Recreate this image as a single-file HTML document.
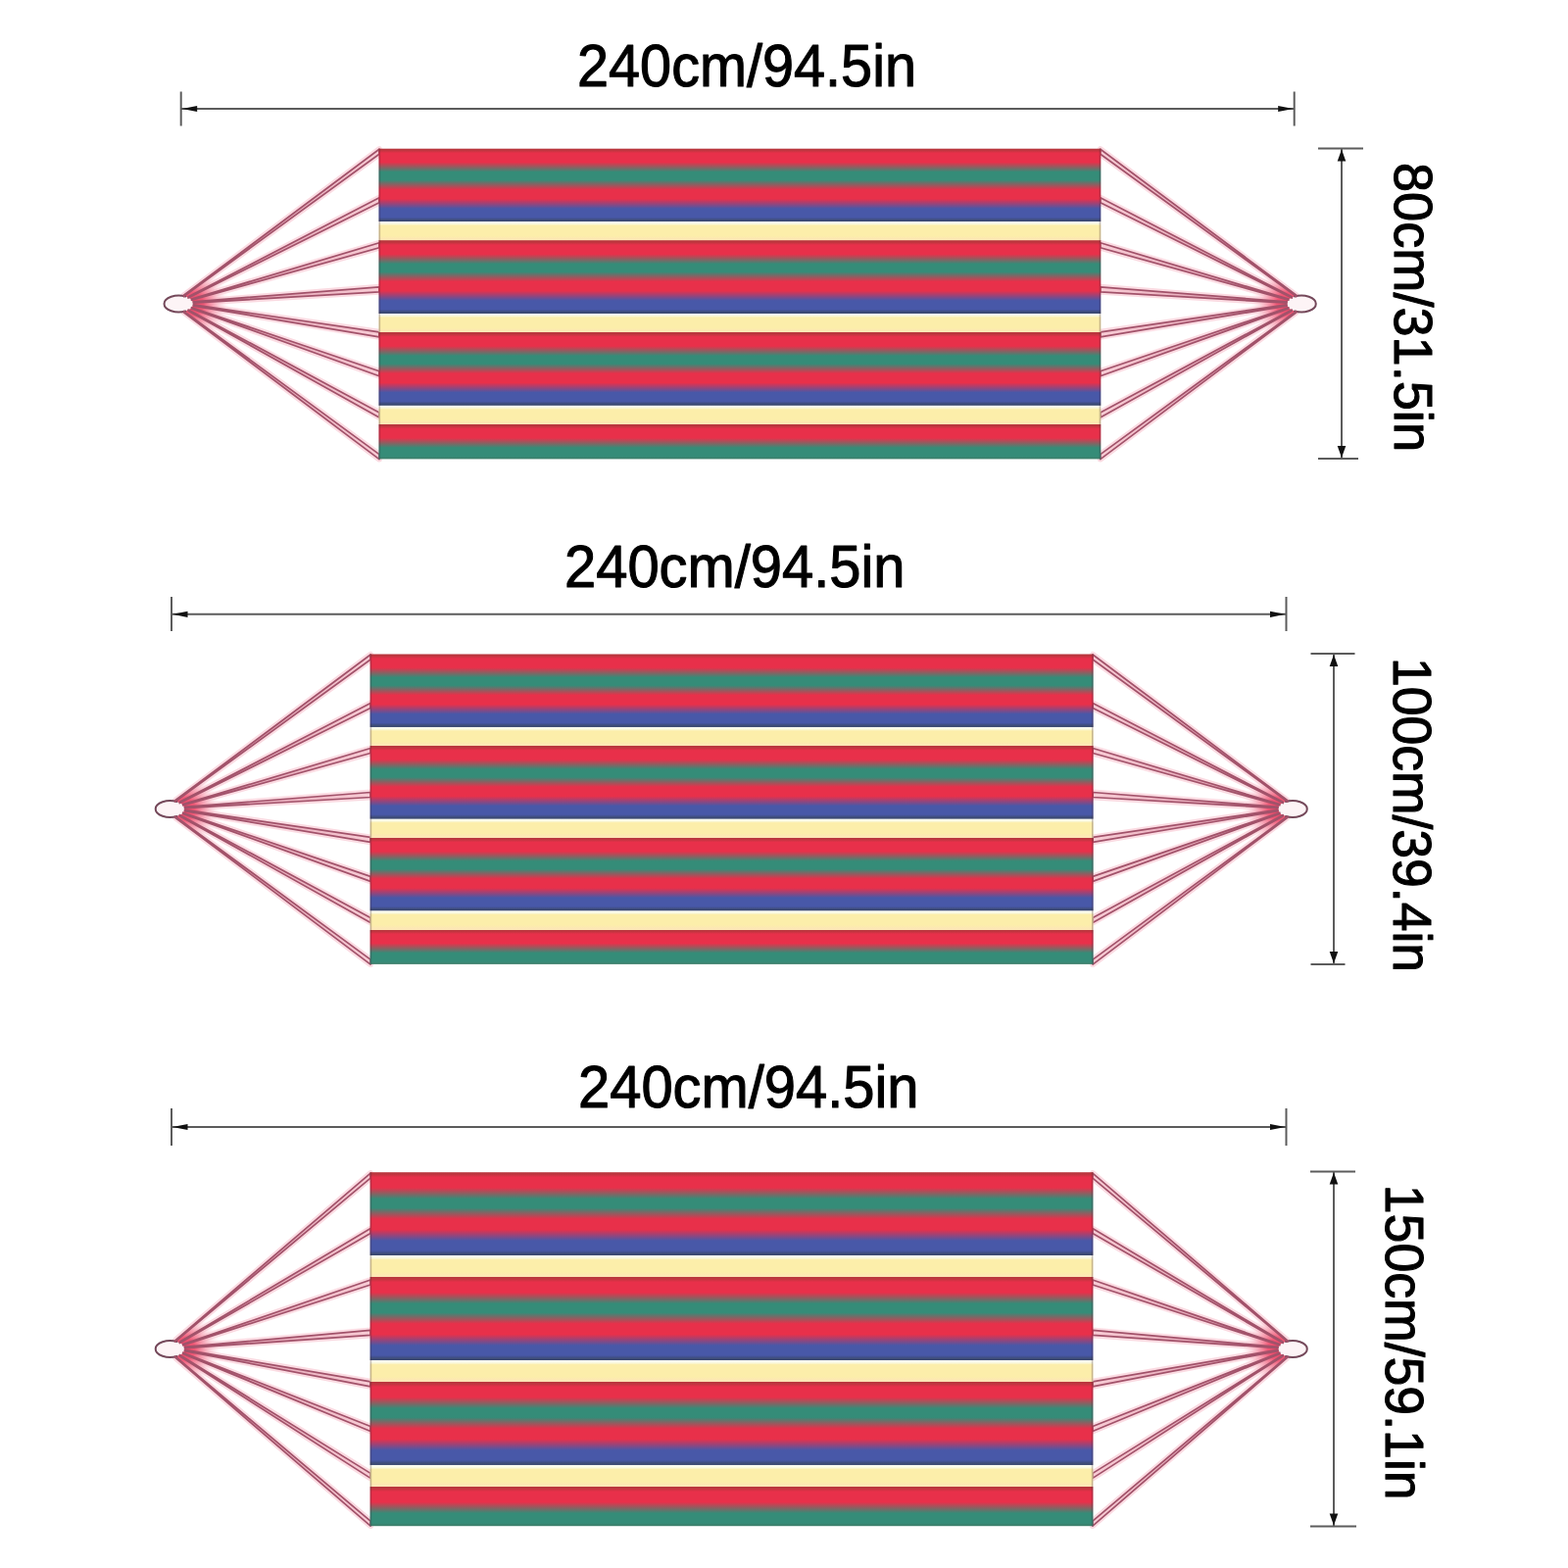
<!DOCTYPE html>
<html lang="en">
<head>
<meta charset="utf-8">
<title>Hammock size chart</title>
<style>
html,body{margin:0;padding:0;background:#fff;}
body{width:1600px;height:1600px;overflow:hidden;}
svg{display:block;}
.t{font-family:"Liberation Sans",sans-serif;font-size:60.5px;fill:#000;stroke:#000;stroke-width:1.1px;stroke-linejoin:round;}
.tv{font-size:56px;}
</style>
</head>
<body>
<svg width="1600" height="1600" viewBox="0 0 1600 1600" role="img" aria-label="Hammock size chart">
<defs>
<linearGradient id="g0" gradientUnits="userSpaceOnUse" x1="0" y1="151.70" x2="0" y2="468.40">
<stop offset="0.0000" stop-color="#ba363e"/>
<stop offset="0.0044" stop-color="#ba363e"/>
<stop offset="0.0142" stop-color="#e8304a"/>
<stop offset="0.0436" stop-color="#e8304a"/>
<stop offset="0.0752" stop-color="#358c78"/>
<stop offset="0.1005" stop-color="#358c78"/>
<stop offset="0.1321" stop-color="#e8304a"/>
<stop offset="0.1618" stop-color="#e8304a"/>
<stop offset="0.1934" stop-color="#4858a8"/>
<stop offset="0.2212" stop-color="#4858a8"/>
<stop offset="0.2306" stop-color="#3c4a74"/>
<stop offset="0.2338" stop-color="#3c4a74"/>
<stop offset="0.2363" stop-color="#fdfdf4"/>
<stop offset="0.2420" stop-color="#fafae1"/>
<stop offset="0.2480" stop-color="#fceeaa"/>
<stop offset="0.2812" stop-color="#fceeaa"/>
<stop offset="0.2932" stop-color="#fde6b6"/>
<stop offset="0.2961" stop-color="#fde6b6"/>
<stop offset="0.2962" stop-color="#ba363e"/>
<stop offset="0.3006" stop-color="#ba363e"/>
<stop offset="0.3104" stop-color="#e8304a"/>
<stop offset="0.3398" stop-color="#e8304a"/>
<stop offset="0.3714" stop-color="#358c78"/>
<stop offset="0.3967" stop-color="#358c78"/>
<stop offset="0.4283" stop-color="#e8304a"/>
<stop offset="0.4580" stop-color="#e8304a"/>
<stop offset="0.4896" stop-color="#4858a8"/>
<stop offset="0.5174" stop-color="#4858a8"/>
<stop offset="0.5269" stop-color="#3c4a74"/>
<stop offset="0.5300" stop-color="#3c4a74"/>
<stop offset="0.5325" stop-color="#fdfdf4"/>
<stop offset="0.5382" stop-color="#fafae1"/>
<stop offset="0.5442" stop-color="#fceeaa"/>
<stop offset="0.5774" stop-color="#fceeaa"/>
<stop offset="0.5894" stop-color="#fde6b6"/>
<stop offset="0.5923" stop-color="#fde6b6"/>
<stop offset="0.5924" stop-color="#ba363e"/>
<stop offset="0.5968" stop-color="#ba363e"/>
<stop offset="0.6066" stop-color="#e8304a"/>
<stop offset="0.6360" stop-color="#e8304a"/>
<stop offset="0.6676" stop-color="#358c78"/>
<stop offset="0.6929" stop-color="#358c78"/>
<stop offset="0.7245" stop-color="#e8304a"/>
<stop offset="0.7542" stop-color="#e8304a"/>
<stop offset="0.7858" stop-color="#4858a8"/>
<stop offset="0.8136" stop-color="#4858a8"/>
<stop offset="0.8231" stop-color="#3c4a74"/>
<stop offset="0.8262" stop-color="#3c4a74"/>
<stop offset="0.8288" stop-color="#fdfdf4"/>
<stop offset="0.8344" stop-color="#fafae1"/>
<stop offset="0.8404" stop-color="#fceeaa"/>
<stop offset="0.8736" stop-color="#fceeaa"/>
<stop offset="0.8856" stop-color="#fde6b6"/>
<stop offset="0.8885" stop-color="#fde6b6"/>
<stop offset="0.8886" stop-color="#ba363e"/>
<stop offset="0.8930" stop-color="#ba363e"/>
<stop offset="0.9028" stop-color="#e8304a"/>
<stop offset="0.9322" stop-color="#e8304a"/>
<stop offset="0.9638" stop-color="#358c78"/>
<stop offset="0.9913" stop-color="#358c78"/>
<stop offset="0.9979" stop-color="#3e806c"/>
<stop offset="1.0000" stop-color="#3e806c"/>
</linearGradient>
<radialGradient id="w0L" gradientUnits="userSpaceOnUse" cx="196.3" cy="310.0" r="38"><stop offset="0" stop-color="#ec3c5e"/><stop offset="0.3" stop-color="#f05876"/><stop offset="0.55" stop-color="#f693a8" stop-opacity="0.8"/><stop offset="0.85" stop-color="#fcd4dc" stop-opacity="0.4"/><stop offset="1" stop-color="#fde6ea" stop-opacity="0"/></radialGradient>
<linearGradient id="r0L" gradientUnits="userSpaceOnUse" x1="196.3" y1="0" x2="386.5" y2="0"><stop offset="0" stop-color="#8a4660"/><stop offset="0.14" stop-color="#9a546c"/><stop offset="0.36" stop-color="#e4a4b5"/><stop offset="1" stop-color="#f8ccd5"/></linearGradient>
<radialGradient id="w0R" gradientUnits="userSpaceOnUse" cx="1314.0" cy="310.0" r="38"><stop offset="0" stop-color="#ec3c5e"/><stop offset="0.3" stop-color="#f05876"/><stop offset="0.55" stop-color="#f693a8" stop-opacity="0.8"/><stop offset="0.85" stop-color="#fcd4dc" stop-opacity="0.4"/><stop offset="1" stop-color="#fde6ea" stop-opacity="0"/></radialGradient>
<linearGradient id="r0R" gradientUnits="userSpaceOnUse" x1="1314.0" y1="0" x2="1123.3" y2="0"><stop offset="0" stop-color="#8a4660"/><stop offset="0.14" stop-color="#9a546c"/><stop offset="0.36" stop-color="#e4a4b5"/><stop offset="1" stop-color="#f8ccd5"/></linearGradient>
<linearGradient id="g1" gradientUnits="userSpaceOnUse" x1="0" y1="667.50" x2="0" y2="983.90">
<stop offset="0.0000" stop-color="#ba363e"/>
<stop offset="0.0044" stop-color="#ba363e"/>
<stop offset="0.0142" stop-color="#e8304a"/>
<stop offset="0.0436" stop-color="#e8304a"/>
<stop offset="0.0752" stop-color="#358c78"/>
<stop offset="0.1005" stop-color="#358c78"/>
<stop offset="0.1321" stop-color="#e8304a"/>
<stop offset="0.1618" stop-color="#e8304a"/>
<stop offset="0.1934" stop-color="#4858a8"/>
<stop offset="0.2212" stop-color="#4858a8"/>
<stop offset="0.2306" stop-color="#3c4a74"/>
<stop offset="0.2338" stop-color="#3c4a74"/>
<stop offset="0.2363" stop-color="#fdfdf4"/>
<stop offset="0.2420" stop-color="#fafae1"/>
<stop offset="0.2480" stop-color="#fceeaa"/>
<stop offset="0.2812" stop-color="#fceeaa"/>
<stop offset="0.2932" stop-color="#fde6b6"/>
<stop offset="0.2961" stop-color="#fde6b6"/>
<stop offset="0.2962" stop-color="#ba363e"/>
<stop offset="0.3006" stop-color="#ba363e"/>
<stop offset="0.3104" stop-color="#e8304a"/>
<stop offset="0.3398" stop-color="#e8304a"/>
<stop offset="0.3714" stop-color="#358c78"/>
<stop offset="0.3967" stop-color="#358c78"/>
<stop offset="0.4283" stop-color="#e8304a"/>
<stop offset="0.4580" stop-color="#e8304a"/>
<stop offset="0.4896" stop-color="#4858a8"/>
<stop offset="0.5174" stop-color="#4858a8"/>
<stop offset="0.5269" stop-color="#3c4a74"/>
<stop offset="0.5300" stop-color="#3c4a74"/>
<stop offset="0.5325" stop-color="#fdfdf4"/>
<stop offset="0.5382" stop-color="#fafae1"/>
<stop offset="0.5442" stop-color="#fceeaa"/>
<stop offset="0.5774" stop-color="#fceeaa"/>
<stop offset="0.5894" stop-color="#fde6b6"/>
<stop offset="0.5923" stop-color="#fde6b6"/>
<stop offset="0.5924" stop-color="#ba363e"/>
<stop offset="0.5968" stop-color="#ba363e"/>
<stop offset="0.6066" stop-color="#e8304a"/>
<stop offset="0.6360" stop-color="#e8304a"/>
<stop offset="0.6676" stop-color="#358c78"/>
<stop offset="0.6929" stop-color="#358c78"/>
<stop offset="0.7245" stop-color="#e8304a"/>
<stop offset="0.7542" stop-color="#e8304a"/>
<stop offset="0.7858" stop-color="#4858a8"/>
<stop offset="0.8136" stop-color="#4858a8"/>
<stop offset="0.8231" stop-color="#3c4a74"/>
<stop offset="0.8262" stop-color="#3c4a74"/>
<stop offset="0.8288" stop-color="#fdfdf4"/>
<stop offset="0.8344" stop-color="#fafae1"/>
<stop offset="0.8404" stop-color="#fceeaa"/>
<stop offset="0.8736" stop-color="#fceeaa"/>
<stop offset="0.8856" stop-color="#fde6b6"/>
<stop offset="0.8885" stop-color="#fde6b6"/>
<stop offset="0.8886" stop-color="#ba363e"/>
<stop offset="0.8930" stop-color="#ba363e"/>
<stop offset="0.9028" stop-color="#e8304a"/>
<stop offset="0.9322" stop-color="#e8304a"/>
<stop offset="0.9638" stop-color="#358c78"/>
<stop offset="0.9913" stop-color="#358c78"/>
<stop offset="0.9979" stop-color="#3e806c"/>
<stop offset="1.0000" stop-color="#3e806c"/>
</linearGradient>
<radialGradient id="w1L" gradientUnits="userSpaceOnUse" cx="187.5" cy="825.5" r="38"><stop offset="0" stop-color="#ec3c5e"/><stop offset="0.3" stop-color="#f05876"/><stop offset="0.55" stop-color="#f693a8" stop-opacity="0.8"/><stop offset="0.85" stop-color="#fcd4dc" stop-opacity="0.4"/><stop offset="1" stop-color="#fde6ea" stop-opacity="0"/></radialGradient>
<linearGradient id="r1L" gradientUnits="userSpaceOnUse" x1="187.5" y1="0" x2="377.6" y2="0"><stop offset="0" stop-color="#8a4660"/><stop offset="0.14" stop-color="#9a546c"/><stop offset="0.36" stop-color="#e4a4b5"/><stop offset="1" stop-color="#f8ccd5"/></linearGradient>
<radialGradient id="w1R" gradientUnits="userSpaceOnUse" cx="1305.0" cy="825.5" r="38"><stop offset="0" stop-color="#ec3c5e"/><stop offset="0.3" stop-color="#f05876"/><stop offset="0.55" stop-color="#f693a8" stop-opacity="0.8"/><stop offset="0.85" stop-color="#fcd4dc" stop-opacity="0.4"/><stop offset="1" stop-color="#fde6ea" stop-opacity="0"/></radialGradient>
<linearGradient id="r1R" gradientUnits="userSpaceOnUse" x1="1305.0" y1="0" x2="1115.6" y2="0"><stop offset="0" stop-color="#8a4660"/><stop offset="0.14" stop-color="#9a546c"/><stop offset="0.36" stop-color="#e4a4b5"/><stop offset="1" stop-color="#f8ccd5"/></linearGradient>
<linearGradient id="g2" gradientUnits="userSpaceOnUse" x1="0" y1="1196.20" x2="0" y2="1557.20">
<stop offset="0.0000" stop-color="#ba363e"/>
<stop offset="0.0044" stop-color="#ba363e"/>
<stop offset="0.0142" stop-color="#e8304a"/>
<stop offset="0.0436" stop-color="#e8304a"/>
<stop offset="0.0752" stop-color="#358c78"/>
<stop offset="0.1005" stop-color="#358c78"/>
<stop offset="0.1321" stop-color="#e8304a"/>
<stop offset="0.1618" stop-color="#e8304a"/>
<stop offset="0.1934" stop-color="#4858a8"/>
<stop offset="0.2212" stop-color="#4858a8"/>
<stop offset="0.2306" stop-color="#3c4a74"/>
<stop offset="0.2338" stop-color="#3c4a74"/>
<stop offset="0.2363" stop-color="#fdfdf4"/>
<stop offset="0.2420" stop-color="#fafae1"/>
<stop offset="0.2480" stop-color="#fceeaa"/>
<stop offset="0.2812" stop-color="#fceeaa"/>
<stop offset="0.2932" stop-color="#fde6b6"/>
<stop offset="0.2961" stop-color="#fde6b6"/>
<stop offset="0.2962" stop-color="#ba363e"/>
<stop offset="0.3006" stop-color="#ba363e"/>
<stop offset="0.3104" stop-color="#e8304a"/>
<stop offset="0.3398" stop-color="#e8304a"/>
<stop offset="0.3714" stop-color="#358c78"/>
<stop offset="0.3967" stop-color="#358c78"/>
<stop offset="0.4283" stop-color="#e8304a"/>
<stop offset="0.4580" stop-color="#e8304a"/>
<stop offset="0.4896" stop-color="#4858a8"/>
<stop offset="0.5174" stop-color="#4858a8"/>
<stop offset="0.5269" stop-color="#3c4a74"/>
<stop offset="0.5300" stop-color="#3c4a74"/>
<stop offset="0.5325" stop-color="#fdfdf4"/>
<stop offset="0.5382" stop-color="#fafae1"/>
<stop offset="0.5442" stop-color="#fceeaa"/>
<stop offset="0.5774" stop-color="#fceeaa"/>
<stop offset="0.5894" stop-color="#fde6b6"/>
<stop offset="0.5923" stop-color="#fde6b6"/>
<stop offset="0.5924" stop-color="#ba363e"/>
<stop offset="0.5968" stop-color="#ba363e"/>
<stop offset="0.6066" stop-color="#e8304a"/>
<stop offset="0.6360" stop-color="#e8304a"/>
<stop offset="0.6676" stop-color="#358c78"/>
<stop offset="0.6929" stop-color="#358c78"/>
<stop offset="0.7245" stop-color="#e8304a"/>
<stop offset="0.7542" stop-color="#e8304a"/>
<stop offset="0.7858" stop-color="#4858a8"/>
<stop offset="0.8136" stop-color="#4858a8"/>
<stop offset="0.8231" stop-color="#3c4a74"/>
<stop offset="0.8262" stop-color="#3c4a74"/>
<stop offset="0.8288" stop-color="#fdfdf4"/>
<stop offset="0.8344" stop-color="#fafae1"/>
<stop offset="0.8404" stop-color="#fceeaa"/>
<stop offset="0.8736" stop-color="#fceeaa"/>
<stop offset="0.8856" stop-color="#fde6b6"/>
<stop offset="0.8885" stop-color="#fde6b6"/>
<stop offset="0.8886" stop-color="#ba363e"/>
<stop offset="0.8930" stop-color="#ba363e"/>
<stop offset="0.9028" stop-color="#e8304a"/>
<stop offset="0.9322" stop-color="#e8304a"/>
<stop offset="0.9638" stop-color="#358c78"/>
<stop offset="0.9913" stop-color="#358c78"/>
<stop offset="0.9979" stop-color="#3e806c"/>
<stop offset="1.0000" stop-color="#3e806c"/>
</linearGradient>
<radialGradient id="w2L" gradientUnits="userSpaceOnUse" cx="187.5" cy="1376.5" r="38"><stop offset="0" stop-color="#ec3c5e"/><stop offset="0.3" stop-color="#f05876"/><stop offset="0.55" stop-color="#f693a8" stop-opacity="0.8"/><stop offset="0.85" stop-color="#fcd4dc" stop-opacity="0.4"/><stop offset="1" stop-color="#fde6ea" stop-opacity="0"/></radialGradient>
<linearGradient id="r2L" gradientUnits="userSpaceOnUse" x1="187.5" y1="0" x2="377.6" y2="0"><stop offset="0" stop-color="#8a4660"/><stop offset="0.14" stop-color="#9a546c"/><stop offset="0.36" stop-color="#e4a4b5"/><stop offset="1" stop-color="#f8ccd5"/></linearGradient>
<radialGradient id="w2R" gradientUnits="userSpaceOnUse" cx="1305.0" cy="1376.5" r="38"><stop offset="0" stop-color="#ec3c5e"/><stop offset="0.3" stop-color="#f05876"/><stop offset="0.55" stop-color="#f693a8" stop-opacity="0.8"/><stop offset="0.85" stop-color="#fcd4dc" stop-opacity="0.4"/><stop offset="1" stop-color="#fde6ea" stop-opacity="0"/></radialGradient>
<linearGradient id="r2R" gradientUnits="userSpaceOnUse" x1="1305.0" y1="0" x2="1115.4" y2="0"><stop offset="0" stop-color="#8a4660"/><stop offset="0.14" stop-color="#9a546c"/><stop offset="0.36" stop-color="#e4a4b5"/><stop offset="1" stop-color="#f8ccd5"/></linearGradient>
</defs>
<rect x="0" y="0" width="1600" height="1600" fill="#ffffff"/>
<g id="size-1">
<g class="hammock">
<polygon points="187.5,301.3 387.0,152.2 387.0,157.2 187.5,302.5" fill="#fbdbe2" stroke="#fbdbe2" stroke-width="6" stroke-linejoin="round"/>
<polygon points="192.1,302.8 387.0,201.7 387.0,206.7 192.1,304.0" fill="#fbdbe2" stroke="#fbdbe2" stroke-width="6" stroke-linejoin="round"/>
<polygon points="195.5,305.1 387.0,247.8 387.0,252.8 195.5,306.3" fill="#fbdbe2" stroke="#fbdbe2" stroke-width="6" stroke-linejoin="round"/>
<polygon points="197.3,307.9 387.0,292.8 387.0,297.8 197.3,309.1" fill="#fbdbe2" stroke="#fbdbe2" stroke-width="6" stroke-linejoin="round"/>
<polygon points="197.3,310.9 387.0,338.8 387.0,343.8 197.3,312.1" fill="#fbdbe2" stroke="#fbdbe2" stroke-width="6" stroke-linejoin="round"/>
<polygon points="195.5,313.7 387.0,378.8 387.0,383.8 195.5,314.9" fill="#fbdbe2" stroke="#fbdbe2" stroke-width="6" stroke-linejoin="round"/>
<polygon points="192.1,316.0 387.0,420.9 387.0,425.9 192.1,317.2" fill="#fbdbe2" stroke="#fbdbe2" stroke-width="6" stroke-linejoin="round"/>
<polygon points="187.5,317.5 387.0,463.6 387.0,468.6 187.5,318.7" fill="#fbdbe2" stroke="#fbdbe2" stroke-width="6" stroke-linejoin="round"/>
<path d="M187.3 301.4 L236.3 265.1 L236.3 354.9 L187.3 318.6 Z" fill="url(#w0L)"/>
<ellipse cx="182.3" cy="310.0" rx="14.8" ry="8.4" fill="#fdf4f6"/>
<path d="M189.25 302.58 A14.8 8.4 0 1 0 189.25 317.42" fill="none" stroke="#74485a" stroke-width="2" stroke-linecap="round"/>
<polygon points="187.5,301.3 387.0,152.2 387.0,157.2 187.5,302.5" fill="url(#r0L)" stroke="#a2526a" stroke-width="1.7" stroke-linejoin="round"/>
<polygon points="192.1,302.8 387.0,201.7 387.0,206.7 192.1,304.0" fill="url(#r0L)" stroke="#a2526a" stroke-width="1.7" stroke-linejoin="round"/>
<polygon points="195.5,305.1 387.0,247.8 387.0,252.8 195.5,306.3" fill="url(#r0L)" stroke="#a2526a" stroke-width="1.7" stroke-linejoin="round"/>
<polygon points="197.3,307.9 387.0,292.8 387.0,297.8 197.3,309.1" fill="url(#r0L)" stroke="#a2526a" stroke-width="1.7" stroke-linejoin="round"/>
<polygon points="197.3,310.9 387.0,338.8 387.0,343.8 197.3,312.1" fill="url(#r0L)" stroke="#a2526a" stroke-width="1.7" stroke-linejoin="round"/>
<polygon points="195.5,313.7 387.0,378.8 387.0,383.8 195.5,314.9" fill="url(#r0L)" stroke="#a2526a" stroke-width="1.7" stroke-linejoin="round"/>
<polygon points="192.1,316.0 387.0,420.9 387.0,425.9 192.1,317.2" fill="url(#r0L)" stroke="#a2526a" stroke-width="1.7" stroke-linejoin="round"/>
<polygon points="187.5,317.5 387.0,463.6 387.0,468.6 187.5,318.7" fill="url(#r0L)" stroke="#a2526a" stroke-width="1.7" stroke-linejoin="round"/>
<polygon points="1322.8,301.3 1122.8,152.2 1122.8,157.2 1322.8,302.5" fill="#fbdbe2" stroke="#fbdbe2" stroke-width="6" stroke-linejoin="round"/>
<polygon points="1318.2,302.8 1122.8,201.7 1122.8,206.7 1318.2,304.0" fill="#fbdbe2" stroke="#fbdbe2" stroke-width="6" stroke-linejoin="round"/>
<polygon points="1314.8,305.1 1122.8,247.8 1122.8,252.8 1314.8,306.3" fill="#fbdbe2" stroke="#fbdbe2" stroke-width="6" stroke-linejoin="round"/>
<polygon points="1313.0,307.9 1122.8,292.8 1122.8,297.8 1313.0,309.1" fill="#fbdbe2" stroke="#fbdbe2" stroke-width="6" stroke-linejoin="round"/>
<polygon points="1313.0,310.9 1122.8,338.8 1122.8,343.8 1313.0,312.1" fill="#fbdbe2" stroke="#fbdbe2" stroke-width="6" stroke-linejoin="round"/>
<polygon points="1314.8,313.7 1122.8,378.8 1122.8,383.8 1314.8,314.9" fill="#fbdbe2" stroke="#fbdbe2" stroke-width="6" stroke-linejoin="round"/>
<polygon points="1318.2,316.0 1122.8,420.9 1122.8,425.9 1318.2,317.2" fill="#fbdbe2" stroke="#fbdbe2" stroke-width="6" stroke-linejoin="round"/>
<polygon points="1322.8,317.5 1122.8,463.6 1122.8,468.6 1322.8,318.7" fill="#fbdbe2" stroke="#fbdbe2" stroke-width="6" stroke-linejoin="round"/>
<path d="M1323.0 301.4 L1274.0 265.1 L1274.0 354.9 L1323.0 318.6 Z" fill="url(#w0R)"/>
<ellipse cx="1328.0" cy="310.0" rx="14.8" ry="8.4" fill="#fdf4f6"/>
<path d="M1321.05 302.58 A14.8 8.4 0 1 1 1321.05 317.42" fill="none" stroke="#74485a" stroke-width="2" stroke-linecap="round"/>
<polygon points="1322.8,301.3 1122.8,152.2 1122.8,157.2 1322.8,302.5" fill="url(#r0R)" stroke="#a2526a" stroke-width="1.7" stroke-linejoin="round"/>
<polygon points="1318.2,302.8 1122.8,201.7 1122.8,206.7 1318.2,304.0" fill="url(#r0R)" stroke="#a2526a" stroke-width="1.7" stroke-linejoin="round"/>
<polygon points="1314.8,305.1 1122.8,247.8 1122.8,252.8 1314.8,306.3" fill="url(#r0R)" stroke="#a2526a" stroke-width="1.7" stroke-linejoin="round"/>
<polygon points="1313.0,307.9 1122.8,292.8 1122.8,297.8 1313.0,309.1" fill="url(#r0R)" stroke="#a2526a" stroke-width="1.7" stroke-linejoin="round"/>
<polygon points="1313.0,310.9 1122.8,338.8 1122.8,343.8 1313.0,312.1" fill="url(#r0R)" stroke="#a2526a" stroke-width="1.7" stroke-linejoin="round"/>
<polygon points="1314.8,313.7 1122.8,378.8 1122.8,383.8 1314.8,314.9" fill="url(#r0R)" stroke="#a2526a" stroke-width="1.7" stroke-linejoin="round"/>
<polygon points="1318.2,316.0 1122.8,420.9 1122.8,425.9 1318.2,317.2" fill="url(#r0R)" stroke="#a2526a" stroke-width="1.7" stroke-linejoin="round"/>
<polygon points="1322.8,317.5 1122.8,463.6 1122.8,468.6 1322.8,318.7" fill="url(#r0R)" stroke="#a2526a" stroke-width="1.7" stroke-linejoin="round"/>
<rect x="386.5" y="151.7" width="736.8" height="316.7" fill="url(#g0)"/>
<rect x="386.5" y="151.7" width="1.6" height="316.7" fill="#402838" opacity="0.28"/>
<rect x="1121.7" y="151.7" width="1.6" height="316.7" fill="#402838" opacity="0.28"/>
</g>
<g class="dim dim-length">
<line x1="184.7" y1="111.0" x2="1320.7" y2="111.0" stroke="#5c5c5c" stroke-width="2"/>
<line x1="184.7" y1="93.5" x2="184.7" y2="128.5" stroke="#5c5c5c" stroke-width="2"/>
<line x1="1320.7" y1="93.5" x2="1320.7" y2="128.5" stroke="#5c5c5c" stroke-width="2"/>
<polygon points="185.7,111.0 201.2,107.9 201.2,114.1" fill="#111"/>
<polygon points="1319.7,111.0 1304.2,107.9 1304.2,114.1" fill="#111"/>
<text class="t h0" x="589.0" y="88.0" textLength="346.0" lengthAdjust="spacingAndGlyphs">240cm/94.5in</text>
</g>
<g class="dim dim-width">
<line x1="1369.0" y1="151.6" x2="1369.0" y2="468.0" stroke="#5c5c5c" stroke-width="2"/>
<line x1="1345.0" y1="151.6" x2="1391.0" y2="151.6" stroke="#5c5c5c" stroke-width="2"/>
<line x1="1345.0" y1="468.0" x2="1386.0" y2="468.0" stroke="#5c5c5c" stroke-width="2"/>
<polygon points="1369.0,152.6 1364.7,164.6 1373.3,164.6" fill="#111"/>
<polygon points="1369.0,467.0 1364.7,455.0 1373.3,455.0" fill="#111"/>
<text class="t tv v0" transform="translate(1422.5 166.0) rotate(90)" x="0" y="0" textLength="295.0" lengthAdjust="spacingAndGlyphs">80cm/31.5in</text>
</g>
</g>
<g id="size-2">
<g class="hammock">
<polygon points="178.7,816.8 378.1,668.0 378.1,673.0 178.7,818.0" fill="#fbdbe2" stroke="#fbdbe2" stroke-width="6" stroke-linejoin="round"/>
<polygon points="183.3,818.3 378.1,717.5 378.1,722.5 183.3,819.5" fill="#fbdbe2" stroke="#fbdbe2" stroke-width="6" stroke-linejoin="round"/>
<polygon points="186.7,820.6 378.1,763.5 378.1,768.5 186.7,821.8" fill="#fbdbe2" stroke="#fbdbe2" stroke-width="6" stroke-linejoin="round"/>
<polygon points="188.5,823.4 378.1,808.5 378.1,813.5 188.5,824.6" fill="#fbdbe2" stroke="#fbdbe2" stroke-width="6" stroke-linejoin="round"/>
<polygon points="188.5,826.4 378.1,854.4 378.1,859.4 188.5,827.6" fill="#fbdbe2" stroke="#fbdbe2" stroke-width="6" stroke-linejoin="round"/>
<polygon points="186.7,829.2 378.1,894.4 378.1,899.4 186.7,830.4" fill="#fbdbe2" stroke="#fbdbe2" stroke-width="6" stroke-linejoin="round"/>
<polygon points="183.3,831.5 378.1,936.4 378.1,941.4 183.3,832.7" fill="#fbdbe2" stroke="#fbdbe2" stroke-width="6" stroke-linejoin="round"/>
<polygon points="178.7,833.0 378.1,979.1 378.1,984.1 178.7,834.2" fill="#fbdbe2" stroke="#fbdbe2" stroke-width="6" stroke-linejoin="round"/>
<path d="M178.5 816.9 L227.5 780.6 L227.5 870.4 L178.5 834.1 Z" fill="url(#w1L)"/>
<ellipse cx="173.5" cy="825.5" rx="14.8" ry="8.4" fill="#fdf4f6"/>
<path d="M180.45 818.08 A14.8 8.4 0 1 0 180.45 832.92" fill="none" stroke="#74485a" stroke-width="2" stroke-linecap="round"/>
<polygon points="178.7,816.8 378.1,668.0 378.1,673.0 178.7,818.0" fill="url(#r1L)" stroke="#a2526a" stroke-width="1.7" stroke-linejoin="round"/>
<polygon points="183.3,818.3 378.1,717.5 378.1,722.5 183.3,819.5" fill="url(#r1L)" stroke="#a2526a" stroke-width="1.7" stroke-linejoin="round"/>
<polygon points="186.7,820.6 378.1,763.5 378.1,768.5 186.7,821.8" fill="url(#r1L)" stroke="#a2526a" stroke-width="1.7" stroke-linejoin="round"/>
<polygon points="188.5,823.4 378.1,808.5 378.1,813.5 188.5,824.6" fill="url(#r1L)" stroke="#a2526a" stroke-width="1.7" stroke-linejoin="round"/>
<polygon points="188.5,826.4 378.1,854.4 378.1,859.4 188.5,827.6" fill="url(#r1L)" stroke="#a2526a" stroke-width="1.7" stroke-linejoin="round"/>
<polygon points="186.7,829.2 378.1,894.4 378.1,899.4 186.7,830.4" fill="url(#r1L)" stroke="#a2526a" stroke-width="1.7" stroke-linejoin="round"/>
<polygon points="183.3,831.5 378.1,936.4 378.1,941.4 183.3,832.7" fill="url(#r1L)" stroke="#a2526a" stroke-width="1.7" stroke-linejoin="round"/>
<polygon points="178.7,833.0 378.1,979.1 378.1,984.1 178.7,834.2" fill="url(#r1L)" stroke="#a2526a" stroke-width="1.7" stroke-linejoin="round"/>
<polygon points="1313.8,816.8 1115.1,668.0 1115.1,673.0 1313.8,818.0" fill="#fbdbe2" stroke="#fbdbe2" stroke-width="6" stroke-linejoin="round"/>
<polygon points="1309.2,818.3 1115.1,717.5 1115.1,722.5 1309.2,819.5" fill="#fbdbe2" stroke="#fbdbe2" stroke-width="6" stroke-linejoin="round"/>
<polygon points="1305.8,820.6 1115.1,763.5 1115.1,768.5 1305.8,821.8" fill="#fbdbe2" stroke="#fbdbe2" stroke-width="6" stroke-linejoin="round"/>
<polygon points="1304.0,823.4 1115.1,808.5 1115.1,813.5 1304.0,824.6" fill="#fbdbe2" stroke="#fbdbe2" stroke-width="6" stroke-linejoin="round"/>
<polygon points="1304.0,826.4 1115.1,854.4 1115.1,859.4 1304.0,827.6" fill="#fbdbe2" stroke="#fbdbe2" stroke-width="6" stroke-linejoin="round"/>
<polygon points="1305.8,829.2 1115.1,894.4 1115.1,899.4 1305.8,830.4" fill="#fbdbe2" stroke="#fbdbe2" stroke-width="6" stroke-linejoin="round"/>
<polygon points="1309.2,831.5 1115.1,936.4 1115.1,941.4 1309.2,832.7" fill="#fbdbe2" stroke="#fbdbe2" stroke-width="6" stroke-linejoin="round"/>
<polygon points="1313.8,833.0 1115.1,979.1 1115.1,984.1 1313.8,834.2" fill="#fbdbe2" stroke="#fbdbe2" stroke-width="6" stroke-linejoin="round"/>
<path d="M1314.0 816.9 L1265.0 780.6 L1265.0 870.4 L1314.0 834.1 Z" fill="url(#w1R)"/>
<ellipse cx="1319.0" cy="825.5" rx="14.8" ry="8.4" fill="#fdf4f6"/>
<path d="M1312.05 818.08 A14.8 8.4 0 1 1 1312.05 832.92" fill="none" stroke="#74485a" stroke-width="2" stroke-linecap="round"/>
<polygon points="1313.8,816.8 1115.1,668.0 1115.1,673.0 1313.8,818.0" fill="url(#r1R)" stroke="#a2526a" stroke-width="1.7" stroke-linejoin="round"/>
<polygon points="1309.2,818.3 1115.1,717.5 1115.1,722.5 1309.2,819.5" fill="url(#r1R)" stroke="#a2526a" stroke-width="1.7" stroke-linejoin="round"/>
<polygon points="1305.8,820.6 1115.1,763.5 1115.1,768.5 1305.8,821.8" fill="url(#r1R)" stroke="#a2526a" stroke-width="1.7" stroke-linejoin="round"/>
<polygon points="1304.0,823.4 1115.1,808.5 1115.1,813.5 1304.0,824.6" fill="url(#r1R)" stroke="#a2526a" stroke-width="1.7" stroke-linejoin="round"/>
<polygon points="1304.0,826.4 1115.1,854.4 1115.1,859.4 1304.0,827.6" fill="url(#r1R)" stroke="#a2526a" stroke-width="1.7" stroke-linejoin="round"/>
<polygon points="1305.8,829.2 1115.1,894.4 1115.1,899.4 1305.8,830.4" fill="url(#r1R)" stroke="#a2526a" stroke-width="1.7" stroke-linejoin="round"/>
<polygon points="1309.2,831.5 1115.1,936.4 1115.1,941.4 1309.2,832.7" fill="url(#r1R)" stroke="#a2526a" stroke-width="1.7" stroke-linejoin="round"/>
<polygon points="1313.8,833.0 1115.1,979.1 1115.1,984.1 1313.8,834.2" fill="url(#r1R)" stroke="#a2526a" stroke-width="1.7" stroke-linejoin="round"/>
<rect x="377.6" y="667.5" width="738.0" height="316.4" fill="url(#g1)"/>
<rect x="377.6" y="667.5" width="1.6" height="316.4" fill="#402838" opacity="0.28"/>
<rect x="1114.0" y="667.5" width="1.6" height="316.4" fill="#402838" opacity="0.28"/>
</g>
<g class="dim dim-length">
<line x1="175.0" y1="626.8" x2="1312.5" y2="626.8" stroke="#5c5c5c" stroke-width="2"/>
<line x1="175.0" y1="609.0" x2="175.0" y2="644.0" stroke="#5c5c5c" stroke-width="2"/>
<line x1="1312.5" y1="609.0" x2="1312.5" y2="644.0" stroke="#5c5c5c" stroke-width="2"/>
<polygon points="176.0,626.8 191.5,623.7 191.5,629.9" fill="#111"/>
<polygon points="1311.5,626.8 1296.0,623.7 1296.0,629.9" fill="#111"/>
<text class="t h1" x="576.0" y="599.0" textLength="347.5" lengthAdjust="spacingAndGlyphs">240cm/94.5in</text>
</g>
<g class="dim dim-width">
<line x1="1361.0" y1="667.0" x2="1361.0" y2="984.0" stroke="#5c5c5c" stroke-width="2"/>
<line x1="1337.5" y1="667.0" x2="1382.5" y2="667.0" stroke="#5c5c5c" stroke-width="2"/>
<line x1="1337.5" y1="984.0" x2="1372.5" y2="984.0" stroke="#5c5c5c" stroke-width="2"/>
<polygon points="1361.0,668.0 1356.7,680.0 1365.3,680.0" fill="#111"/>
<polygon points="1361.0,983.0 1356.7,971.0 1365.3,971.0" fill="#111"/>
<text class="t tv v1" transform="translate(1421.5 671.0) rotate(90)" x="0" y="0" textLength="321.0" lengthAdjust="spacingAndGlyphs">100cm/39.4in</text>
</g>
</g>
<g id="size-3">
<g class="hammock">
<polygon points="178.7,1367.8 378.1,1197.1 378.1,1202.1 178.7,1369.0" fill="#fbdbe2" stroke="#fbdbe2" stroke-width="6" stroke-linejoin="round"/>
<polygon points="183.3,1369.3 378.1,1253.6 378.1,1258.6 183.3,1370.5" fill="#fbdbe2" stroke="#fbdbe2" stroke-width="6" stroke-linejoin="round"/>
<polygon points="186.7,1371.6 378.1,1306.0 378.1,1311.0 186.7,1372.8" fill="#fbdbe2" stroke="#fbdbe2" stroke-width="6" stroke-linejoin="round"/>
<polygon points="188.5,1374.4 378.1,1357.4 378.1,1362.4 188.5,1375.6" fill="#fbdbe2" stroke="#fbdbe2" stroke-width="6" stroke-linejoin="round"/>
<polygon points="188.5,1377.4 378.1,1409.8 378.1,1414.8 188.5,1378.6" fill="#fbdbe2" stroke="#fbdbe2" stroke-width="6" stroke-linejoin="round"/>
<polygon points="186.7,1380.2 378.1,1455.5 378.1,1460.5 186.7,1381.4" fill="#fbdbe2" stroke="#fbdbe2" stroke-width="6" stroke-linejoin="round"/>
<polygon points="183.3,1382.5 378.1,1503.4 378.1,1508.4 183.3,1383.7" fill="#fbdbe2" stroke="#fbdbe2" stroke-width="6" stroke-linejoin="round"/>
<polygon points="178.7,1384.0 378.1,1552.1 378.1,1557.1 178.7,1385.2" fill="#fbdbe2" stroke="#fbdbe2" stroke-width="6" stroke-linejoin="round"/>
<path d="M178.5 1367.9 L227.5 1331.6 L227.5 1421.4 L178.5 1385.1 Z" fill="url(#w2L)"/>
<ellipse cx="173.5" cy="1376.5" rx="14.8" ry="8.4" fill="#fdf4f6"/>
<path d="M180.45 1369.08 A14.8 8.4 0 1 0 180.45 1383.92" fill="none" stroke="#74485a" stroke-width="2" stroke-linecap="round"/>
<polygon points="178.7,1367.8 378.1,1197.1 378.1,1202.1 178.7,1369.0" fill="url(#r2L)" stroke="#a2526a" stroke-width="1.7" stroke-linejoin="round"/>
<polygon points="183.3,1369.3 378.1,1253.6 378.1,1258.6 183.3,1370.5" fill="url(#r2L)" stroke="#a2526a" stroke-width="1.7" stroke-linejoin="round"/>
<polygon points="186.7,1371.6 378.1,1306.0 378.1,1311.0 186.7,1372.8" fill="url(#r2L)" stroke="#a2526a" stroke-width="1.7" stroke-linejoin="round"/>
<polygon points="188.5,1374.4 378.1,1357.4 378.1,1362.4 188.5,1375.6" fill="url(#r2L)" stroke="#a2526a" stroke-width="1.7" stroke-linejoin="round"/>
<polygon points="188.5,1377.4 378.1,1409.8 378.1,1414.8 188.5,1378.6" fill="url(#r2L)" stroke="#a2526a" stroke-width="1.7" stroke-linejoin="round"/>
<polygon points="186.7,1380.2 378.1,1455.5 378.1,1460.5 186.7,1381.4" fill="url(#r2L)" stroke="#a2526a" stroke-width="1.7" stroke-linejoin="round"/>
<polygon points="183.3,1382.5 378.1,1503.4 378.1,1508.4 183.3,1383.7" fill="url(#r2L)" stroke="#a2526a" stroke-width="1.7" stroke-linejoin="round"/>
<polygon points="178.7,1384.0 378.1,1552.1 378.1,1557.1 178.7,1385.2" fill="url(#r2L)" stroke="#a2526a" stroke-width="1.7" stroke-linejoin="round"/>
<polygon points="1313.8,1367.8 1114.9,1197.1 1114.9,1202.1 1313.8,1369.0" fill="#fbdbe2" stroke="#fbdbe2" stroke-width="6" stroke-linejoin="round"/>
<polygon points="1309.2,1369.3 1114.9,1253.6 1114.9,1258.6 1309.2,1370.5" fill="#fbdbe2" stroke="#fbdbe2" stroke-width="6" stroke-linejoin="round"/>
<polygon points="1305.8,1371.6 1114.9,1306.0 1114.9,1311.0 1305.8,1372.8" fill="#fbdbe2" stroke="#fbdbe2" stroke-width="6" stroke-linejoin="round"/>
<polygon points="1304.0,1374.4 1114.9,1357.4 1114.9,1362.4 1304.0,1375.6" fill="#fbdbe2" stroke="#fbdbe2" stroke-width="6" stroke-linejoin="round"/>
<polygon points="1304.0,1377.4 1114.9,1409.8 1114.9,1414.8 1304.0,1378.6" fill="#fbdbe2" stroke="#fbdbe2" stroke-width="6" stroke-linejoin="round"/>
<polygon points="1305.8,1380.2 1114.9,1455.5 1114.9,1460.5 1305.8,1381.4" fill="#fbdbe2" stroke="#fbdbe2" stroke-width="6" stroke-linejoin="round"/>
<polygon points="1309.2,1382.5 1114.9,1503.4 1114.9,1508.4 1309.2,1383.7" fill="#fbdbe2" stroke="#fbdbe2" stroke-width="6" stroke-linejoin="round"/>
<polygon points="1313.8,1384.0 1114.9,1552.1 1114.9,1557.1 1313.8,1385.2" fill="#fbdbe2" stroke="#fbdbe2" stroke-width="6" stroke-linejoin="round"/>
<path d="M1314.0 1367.9 L1265.0 1331.6 L1265.0 1421.4 L1314.0 1385.1 Z" fill="url(#w2R)"/>
<ellipse cx="1319.0" cy="1376.5" rx="14.8" ry="8.4" fill="#fdf4f6"/>
<path d="M1312.05 1369.08 A14.8 8.4 0 1 1 1312.05 1383.92" fill="none" stroke="#74485a" stroke-width="2" stroke-linecap="round"/>
<polygon points="1313.8,1367.8 1114.9,1197.1 1114.9,1202.1 1313.8,1369.0" fill="url(#r2R)" stroke="#a2526a" stroke-width="1.7" stroke-linejoin="round"/>
<polygon points="1309.2,1369.3 1114.9,1253.6 1114.9,1258.6 1309.2,1370.5" fill="url(#r2R)" stroke="#a2526a" stroke-width="1.7" stroke-linejoin="round"/>
<polygon points="1305.8,1371.6 1114.9,1306.0 1114.9,1311.0 1305.8,1372.8" fill="url(#r2R)" stroke="#a2526a" stroke-width="1.7" stroke-linejoin="round"/>
<polygon points="1304.0,1374.4 1114.9,1357.4 1114.9,1362.4 1304.0,1375.6" fill="url(#r2R)" stroke="#a2526a" stroke-width="1.7" stroke-linejoin="round"/>
<polygon points="1304.0,1377.4 1114.9,1409.8 1114.9,1414.8 1304.0,1378.6" fill="url(#r2R)" stroke="#a2526a" stroke-width="1.7" stroke-linejoin="round"/>
<polygon points="1305.8,1380.2 1114.9,1455.5 1114.9,1460.5 1305.8,1381.4" fill="url(#r2R)" stroke="#a2526a" stroke-width="1.7" stroke-linejoin="round"/>
<polygon points="1309.2,1382.5 1114.9,1503.4 1114.9,1508.4 1309.2,1383.7" fill="url(#r2R)" stroke="#a2526a" stroke-width="1.7" stroke-linejoin="round"/>
<polygon points="1313.8,1384.0 1114.9,1552.1 1114.9,1557.1 1313.8,1385.2" fill="url(#r2R)" stroke="#a2526a" stroke-width="1.7" stroke-linejoin="round"/>
<rect x="377.6" y="1196.2" width="737.8" height="361.0" fill="url(#g2)"/>
<rect x="377.6" y="1196.2" width="1.6" height="361.0" fill="#402838" opacity="0.28"/>
<rect x="1113.8" y="1196.2" width="1.6" height="361.0" fill="#402838" opacity="0.28"/>
</g>
<g class="dim dim-length">
<line x1="175.0" y1="1150.0" x2="1312.5" y2="1150.0" stroke="#5c5c5c" stroke-width="2"/>
<line x1="175.0" y1="1131.0" x2="175.0" y2="1169.0" stroke="#5c5c5c" stroke-width="2"/>
<line x1="1312.5" y1="1131.0" x2="1312.5" y2="1169.0" stroke="#5c5c5c" stroke-width="2"/>
<polygon points="176.0,1150.0 191.5,1146.9 191.5,1153.1" fill="#111"/>
<polygon points="1311.5,1150.0 1296.0,1146.9 1296.0,1153.1" fill="#111"/>
<text class="t h2" x="590.0" y="1130.0" textLength="347.5" lengthAdjust="spacingAndGlyphs">240cm/94.5in</text>
</g>
<g class="dim dim-width">
<line x1="1361.0" y1="1195.5" x2="1361.0" y2="1557.5" stroke="#5c5c5c" stroke-width="2"/>
<line x1="1337.0" y1="1195.5" x2="1383.0" y2="1195.5" stroke="#5c5c5c" stroke-width="2"/>
<line x1="1337.0" y1="1557.5" x2="1384.0" y2="1557.5" stroke="#5c5c5c" stroke-width="2"/>
<polygon points="1361.0,1196.5 1356.7,1208.5 1365.3,1208.5" fill="#111"/>
<polygon points="1361.0,1556.5 1356.7,1544.5 1365.3,1544.5" fill="#111"/>
<text class="t tv v2" transform="translate(1413.8 1208.8) rotate(90)" x="0" y="0" textLength="321.8" lengthAdjust="spacingAndGlyphs">150cm/59.1in</text>
</g>
</g>
</svg>
</body>
</html>
